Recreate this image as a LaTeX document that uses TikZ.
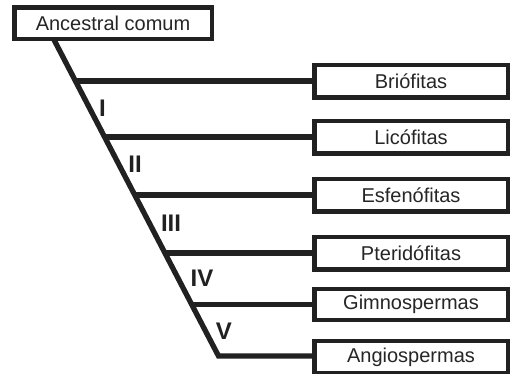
\documentclass[tikz,border=0pt]{standalone}
\usepackage{fontspec}
\setmainfont{Liberation Sans}
\begin{document}
\begin{tikzpicture}[x=1pt,y=-1pt,
  ink/.style={draw=black!87},
  box/.style={ink, line width=4.5pt, fill=white, inner sep=0pt, font=\fontsize{20}{22}\selectfont, text=black!85},
  taxon/.style={box, minimum width=193.5pt, minimum height=32.5pt},
  branch/.style={ink, line width=5.3pt},
  num/.style={font=\fontsize{24}{26}\selectfont\bfseries, text=black!87, inner sep=0pt}]
\useasboundingbox (0,0) rectangle (511,373);
\node[box, minimum width=197.5pt, minimum height=31.5pt] (anc) at (113,23) {Ancestral comum};
\node[taxon] (b1) at (411,81) {Briófitas};
\node[taxon] (b2) at (411,137) {Licófitas};
\node[taxon] (b3) at (411,195) {Esfenófitas};
\node[taxon] (b4) at (411,253) {Pteridófitas};
\node[taxon, minimum height=31pt] (b5) at (411,304.5) {Gimnospermas};
\node[taxon] (b6) at (411,357) {Angiospermas};
\coordinate (top) at (53.6,39);
\coordinate (c1) at (74.5,81);
\coordinate (c2) at (103.7,137);
\coordinate (c3) at (134.0,195);
\coordinate (c4) at (164.3,253);
\coordinate (c5) at (191.2,304.5);
\coordinate (c6) at (218.5,356);
\draw[branch, line join=miter] (top) -- (c6) -- (b6.west |- c6);
\draw[branch] (c1) -- (b1.west);
\draw[branch] (c2) -- (b2.west);
\draw[branch] (c3) -- (b3.west);
\draw[branch] (c4) -- (b4.west);
\draw[branch] (c5) -- (b5.west);
\node[num] (n1) at (102.5,108) {I};
\node[num] (n2) at (135,164) {II};
\node[num] (n3) at (171,223) {III};
\node[num] (n4) at (202,278.5) {IV};
\node[num] (n5) at (224,331.5) {V};
\end{tikzpicture}
\end{document}
